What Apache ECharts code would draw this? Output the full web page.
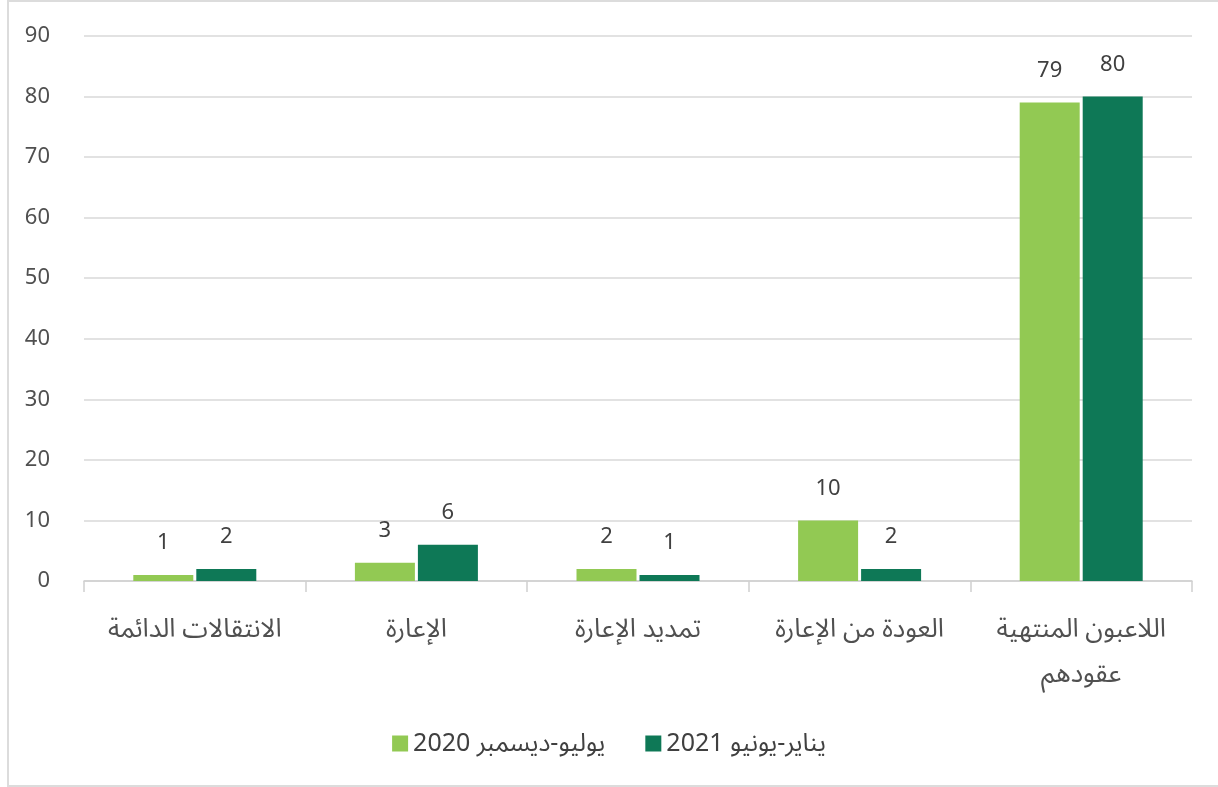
<!DOCTYPE html>
<html>
<head>
<meta charset="utf-8">
<script src="https://cdn.jsdelivr.net/npm/echarts@6/dist/echarts.min.js"></script>
<style>
html,body{margin:0;padding:0;background:#fff;overflow:hidden;}
#frame{position:absolute;left:7px;top:0;width:1222px;height:787px;border:2px solid #dcdcdc;box-sizing:border-box;}
#chart{position:absolute;left:0;top:0;width:1218px;height:787px;}
</style>
</head>
<body>
<div id="frame"></div>
<div id="chart" dir="rtl"></div>
<script>
const categories = ['الانتقالات الدائمة', 'الإعارة', 'تمديد الإعارة', 'العودة من الإعارة', 'اللاعبون المنتهية\nعقودهم'];
const seriesNames = ['يوليو-ديسمبر 2020', 'يناير-يونيو 2021'];
const values2020 = [1, 3, 2, 10, 79];
const values2021 = [2, 6, 1, 2, 80];
const yTicks = { min: 0, max: 90, interval: 10 };

const font = '"Noto Sans", "Noto Sans Arabic", sans-serif';
const chart = echarts.init(document.getElementById('chart'), null, { renderer: 'canvas' });
const labelStyle = { show: true, position: 'top', distance: 21, color: '#404040', fontSize: 22, fontFamily: font };
chart.setOption({
  animation: false,
  textStyle: { fontFamily: font },
  grid: { left: 84, right: 26, top: 36, bottom: 206, containLabel: false },
  legend: {
    top: 726, left: 'center',
    itemWidth: 16, itemHeight: 16, itemGap: 40,
    icon: 'rect',
    textStyle: { color: '#404040', fontSize: 25, fontFamily: font },
    data: seriesNames
  },
  xAxis: {
    type: 'category',
    data: categories,
    axisLine: { lineStyle: { color: '#d0d0d0', width: 1.5 } },
    axisTick: { show: true, length: 11, lineStyle: { color: '#d0d0d0', width: 1.5 } },
    axisLabel: { interval: 0, hideOverlap: false, color: '#505050', fontSize: 26, margin: 26, lineHeight: 45, fontFamily: font }
  },
  yAxis: {
    type: 'value',
    min: yTicks.min, max: yTicks.max, interval: yTicks.interval,
    axisLine: { show: false },
    axisTick: { show: false },
    axisLabel: { color: '#505050', fontSize: 22, margin: 34, fontFamily: font },
    splitLine: { lineStyle: { color: '#d9d9d9', width: 1.5 } }
  },
  series: [
    { name: seriesNames[0], type: 'bar', data: values2020, barWidth: 60, barGap: '5%',
      itemStyle: { color: '#92C953' }, label: labelStyle },
    { name: seriesNames[1], type: 'bar', data: values2021, barWidth: 60, barGap: '5%',
      itemStyle: { color: '#0E7856' }, label: labelStyle }
  ]
});
</script>
</body>
</html>
